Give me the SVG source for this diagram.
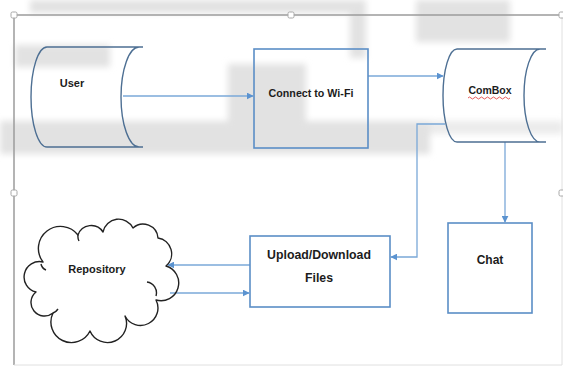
<svg xmlns="http://www.w3.org/2000/svg" width="563" height="367" viewBox="0 0 563 367">
  <style>
    .label { font-family: "Liberation Sans", Arial, sans-serif; font-weight: bold; fill: #1c1c1c; text-anchor: middle; }
    .cyl { fill: none; stroke: #4d6f93; stroke-width: 1.4; }
    .box { fill: none; stroke: #5b8ec6; stroke-width: 1.6; }
    .cloud { fill: none; stroke: #222; stroke-width: 1.4; stroke-linejoin: round; }
    .conn { fill: none; stroke: #7aa8d8; stroke-width: 1.3; }
    .frame { stroke: #9c9c9c; stroke-width: 1.5; fill: none; }
    .handle { fill: #fff; stroke: #a8a8a8; stroke-width: 1; }
    .shade { fill: #e2e2e2; }
  </style>
  <defs>
    <marker id="arrow" viewBox="0 0 10 10" refX="9" refY="5" markerWidth="7" markerHeight="7" markerUnits="userSpaceOnUse" orient="auto">
      <path d="M0,0 L10,5 L0,10 Z" fill="#5b93d0"/>
    </marker>
    <filter id="soft" x="-10%" y="-30%" width="120%" height="160%">
      <feGaussianBlur stdDeviation="3"/>
    </filter>
  </defs>

  <rect width="563" height="367" fill="#ffffff"/>

  <!-- faint grey page shading behind the drawing -->
  <g id="shading" filter="url(#soft)">
    <rect class="shade" x="30" y="0" width="320" height="13"/>
    <rect class="shade" x="350" y="0" width="16" height="58"/>
    <rect class="shade" x="416" y="0" width="94" height="42"/>
    <rect class="shade" x="15" y="45" width="95" height="22"/>
    <rect class="shade" x="228" y="64" width="78" height="86"/>
    <rect class="shade" x="0" y="121" width="430" height="33"/>
    <rect class="shade" x="430" y="121" width="133" height="13" opacity="0.7"/>
  </g>

  <!-- drawing canvas frame with selection handles -->
  <g id="frame">
    <path class="frame" d="M14,15 L562,15 M14,15 L14,365"/>
    <path d="M14,365 L562,365 M562,15 L562,365" stroke="#e0e0e0" stroke-width="1" fill="none"/>
    <rect class="handle" x="11" y="12" width="6" height="6" rx="1.5"/>
    <rect class="handle" x="288" y="12" width="6" height="6" rx="1.5"/>
    <rect class="handle" x="559" y="12" width="6" height="6" rx="1.5"/>
    <rect class="handle" x="11" y="190" width="6" height="6" rx="1.5"/>
    <rect class="handle" x="559" y="190" width="6" height="6" rx="1.5"/>
  </g>

  <!-- connectors -->
  <g id="connectors">
    <path class="conn" d="M123,96 L253,96" marker-end="url(#arrow)"/>
    <path class="conn" d="M368,76 L443,76" marker-end="url(#arrow)"/>
    <path class="conn" d="M445,124 L417,124 L417,257 L391,257" marker-end="url(#arrow)"/>
    <path class="conn" d="M505,142 L505,222" marker-end="url(#arrow)"/>
    <path class="conn" d="M250,265 L168,265" marker-end="url(#arrow)"/>
    <path class="conn" d="M170,293 L249,293" marker-end="url(#arrow)"/>
  </g>

  <g id="user">
    <path class="cyl" d="M47,47 L143,47 M47,147 L143,147 M47,47 A16,50 0 0 0 47,147 M139,47 A18,50 0 0 0 139,147"/>
    <text class="label" x="72" y="87" font-size="11">User</text>
  </g>

  <g id="connect-wifi">
    <rect class="box" x="254" y="49" width="114" height="99"/>
    <text class="label" x="311" y="97" font-size="10.7">Connect to Wi-Fi</text>
  </g>

  <g id="combox">
    <path class="cyl" d="M457,49 L546,49 M457,142 L546,142 M457,49 A14,46.5 0 0 0 457,142 M540,49 A16,46.5 0 0 0 540,142"/>
    <text class="label" x="490" y="94" font-size="10.5">ComBox</text>
    <path d="M468,98 q1.5,-2 3,0 t3,0 t3,0 t3,0 t3,0 t3,0 t3,0 t3,0 t3,0 t3,0 t3,0 t3,0 t3,0 t3,0" fill="none" stroke="#e03030" stroke-width="0.8"/>
  </g>

  <g id="chat">
    <rect class="box" x="448" y="223" width="84" height="90"/>
    <text class="label" x="490" y="264" font-size="12">Chat</text>
  </g>

  <g id="upload-download">
    <rect class="box" x="250" y="236" width="140" height="71"/>
    <text class="label" x="319" y="259" font-size="12.3">Upload/Download</text>
    <text class="label" x="319" y="282" font-size="12.3">Files</text>
  </g>

  <g id="repository">
    <path class="cloud" d="M43,262
      A20,20 0 0 1 78,235
      A14,14 0 0 1 103,232
      A16,16 0 0 1 133,228
      A15,15 0 0 1 158,238
      A16,16 0 0 1 166,266
      A12,12 0 0 1 156,300
      A17,17 0 0 1 125,316
      A19,19 0 0 1 90,331
      A20,20 0 0 1 53,313
      A13,13 0 0 1 36,292
      A13,13 0 0 1 43,262 Z"/>
    <path class="cloud" d="M147,282 A11,11 0 0 1 156,296 M41,264 A8,8 0 0 0 46,270 M53,313 A10,10 0 0 0 58,309 M78,235 A10,10 0 0 0 79,241"/>
    <text class="label" x="97" y="273" font-size="11">Repository</text>
  </g>
</svg>
